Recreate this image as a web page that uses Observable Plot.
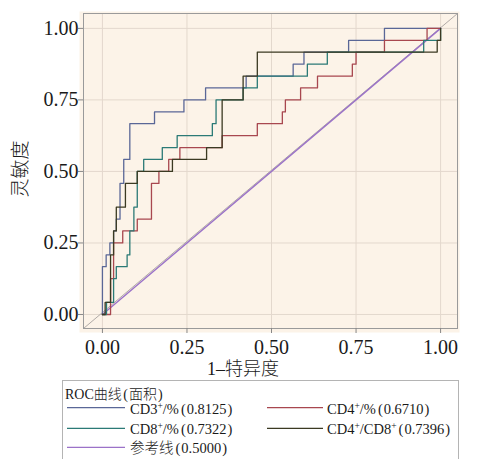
<!DOCTYPE html>
<html>
<head>
<meta charset="utf-8">
<script src="https://cdn.jsdelivr.net/npm/d3@7"></script>
<script src="https://cdn.jsdelivr.net/npm/@observablehq/plot@0.6"></script>
<style>
html,body{margin:0;padding:0;background:#ffffff;}
#wrap{position:relative;width:485px;height:459px;overflow:hidden;}
#chart{position:absolute;left:0;top:0;}
#overlay{position:absolute;left:0;top:0;}
</style>
</head>
<body>
<div id="wrap"><div id="chart"></div><svg id="overlay" width="485" height="459"></svg></div>
<script>
// ---- data ----
const tickValues = [0, 0.25, 0.5, 0.75, 1];
const tickLabels = ["0.00", "0.25", "0.50", "0.75", "1.00"];
const xTitle = "1–特异度";
const yTitle = "灵敏度";
const legendTitleParts = ["ROC曲线", "面积"];

const seriesNames = ["CD3+/%", "CD4+/%", "CD8+/%", "CD4+/CD8+", "参考线"];
const seriesAUC = [0.8125, 0.6710, 0.7322, 0.7396, 0.5000];
const seriesColors = ["#5a6797", "#a8474f", "#2b7a76", "#3b3a22", "#9b72c8"];

// ROC points (1-specificity, sensitivity): top of each vertical rise
const cd3X = [0, 0, 0.011, 0.022, 0.033, 0.041, 0.052, 0.063, 0.081, 0.154, 0.241, 0.305, 0.425, 0.564, 0.596, 0.728, 0.834, 1];
const cd3Y = [0, 0.167, 0.208, 0.250, 0.292, 0.333, 0.458, 0.542, 0.667, 0.708, 0.750, 0.792, 0.833, 0.875, 0.917, 0.958, 1.000, 1.000];

const cd4X = [0, 0.024, 0.033, 0.060, 0.103, 0.145, 0.167, 0.196, 0.229, 0.354, 0.458, 0.532, 0.541, 0.586, 0.636, 0.739, 0.750, 0.834, 0.960, 1];
const cd4Y = [0, 0.125, 0.250, 0.292, 0.333, 0.458, 0.500, 0.542, 0.583, 0.625, 0.667, 0.708, 0.750, 0.792, 0.833, 0.875, 0.917, 0.958, 1.000, 1.000];

const cd8X = [0, 0.012, 0.033, 0.041, 0.073, 0.081, 0.093, 0.103, 0.122, 0.177, 0.221, 0.325, 0.336, 0.416, 0.458, 0.606, 0.665, 0.950, 1];
const cd8Y = [0, 0.042, 0.125, 0.167, 0.208, 0.292, 0.375, 0.500, 0.542, 0.583, 0.625, 0.667, 0.750, 0.792, 0.833, 0.875, 0.917, 0.958, 1];

const ratioX = [0, 0.008, 0.024, 0.033, 0.041, 0.068, 0.103, 0.207, 0.308, 0.354, 0.416, 0.458, 0.990, 1];
const ratioY = [0, 0.042, 0.208, 0.292, 0.375, 0.458, 0.500, 0.542, 0.583, 0.750, 0.833, 0.917, 0.958, 1];

const refX = [0, 1];
const refY = [0, 1];

const xDomain = [-0.056, 1.050];
const yDomain = [-0.049, 1.052];

// ---- build table ----
const curveSets = [[cd3X, cd3Y], [cd4X, cd4Y], [cd8X, cd8Y], [ratioX, ratioY]];
const rows = [];
curveSets.forEach(([xs, ys], k) => xs.forEach((x, i) => rows.push({series: seriesNames[k], x, y: ys[i]})));
const refRows = refX.map((x, i) => ({x, y: refY[i]}));
const diagRows = [{x: xDomain[0], y: yDomain[0]}, {x: xDomain[1], y: yDomain[1]}];

const serif = "'Liberation Serif', 'Noto Sans CJK SC', serif";
const fmt = d => tickLabels[tickValues.indexOf(d)];

const chart = Plot.plot({
  width: 485,
  height: 378,
  marginLeft: 83,
  marginRight: 28,
  marginTop: 13,
  marginBottom: 50,
  style: {fontFamily: serif, fontSize: "20px", color: "#1a1a1a", background: "transparent"},
  x: {domain: xDomain},
  y: {domain: yDomain},
  color: {domain: seriesNames, range: seriesColors},
  marks: [
    Plot.frame({fill: "#fcf3e8", insetLeft: -4, insetBottom: -4, insetRight: -2, insetTop: -2}),
    Plot.ruleX(tickValues, {stroke: "#e3d8cd", strokeWidth: 1}),
    Plot.ruleY(tickValues, {stroke: "#e3d8cd", strokeWidth: 1}),
    Plot.line(diagRows, {x: "x", y: "y", stroke: "#b0aaa6", strokeWidth: 1}),
    Plot.line(refRows, {x: "x", y: "y", stroke: seriesColors[4], strokeWidth: 1.4}),
    Plot.line(rows, {x: "x", y: "y", z: "series", stroke: "series", curve: "step-after", strokeWidth: 1.3}),
    Plot.frame({stroke: "#9a9a9a", strokeWidth: 1}),
    Plot.axisX({ticks: tickValues, tickFormat: fmt, tickSize: 5, tickPadding: 6, label: null, fontSize: 20, stroke: "#888"}),
    Plot.axisY({ticks: tickValues, tickFormat: fmt, tickSize: 5, tickPadding: 0, label: null, fontSize: 20, stroke: "#888"})
  ]
});
document.getElementById("chart").appendChild(chart);

// ---- axis titles and legend ----
const svg = d3.select("#overlay").style("font-family", serif).attr("fill", "#1a1a1a");
svg.append("text").attr("x", 207).attr("y", 375).attr("font-size", 18).attr("font-weight", 300).text(xTitle);
svg.append("text").attr("transform", "translate(27,169) rotate(-90)").attr("text-anchor", "middle")
  .attr("font-size", 19).attr("font-weight", 300).text(yTitle);

svg.append("rect").attr("x", 62.5).attr("y", 380.5).attr("width", 396).attr("height", 90)
  .attr("fill", "#ffffff").attr("stroke", "#b4b4b4");
const lt = svg.append("text").attr("x", 65).attr("y", 398.5).attr("font-size", 14).attr("font-weight", 300);
lt.append("tspan").text(legendTitleParts[0]);
lt.append("tspan").attr("dx", 1.5).text("(");
lt.append("tspan").attr("dx", 1).text(legendTitleParts[1]);
lt.append("tspan").attr("dx", 1).text(")");

const slots = [[0, 0], [1, 0], [0, 1], [1, 1], [0, 2]];
const colLine = [[67, 125], [267, 323]];
const colText = [130, 327];
const rowY = [407.7, 428.3, 447.3];
seriesNames.forEach((name, k) => {
  const [c, r] = slots[k];
  const y = rowY[r];
  svg.append("line").attr("x1", colLine[c][0]).attr("x2", colLine[c][1]).attr("y1", y).attr("y2", y)
    .attr("stroke", seriesColors[k]).attr("stroke-width", 1.3);
  const t = svg.append("text").attr("x", colText[c]).attr("y", y + 6).attr("font-size", 14.5).attr("font-weight", 300);
  let shift = 0;
  name.split(/(\+)/).filter(p => p.length).forEach(p => {
    if (p === "+") {
      t.append("tspan").attr("dy", -5).attr("font-size", 9.5).text("+");
      shift = 5;
    } else {
      t.append("tspan").attr("dy", shift).text(p);
      shift = 0;
    }
  });
  t.append("tspan").attr("dy", shift).attr("dx", 2).text("(");
  t.append("tspan").attr("dx", 1).text(seriesAUC[k].toFixed(4));
  t.append("tspan").attr("dx", 1).text(")");
});
</script>
</body>
</html>
